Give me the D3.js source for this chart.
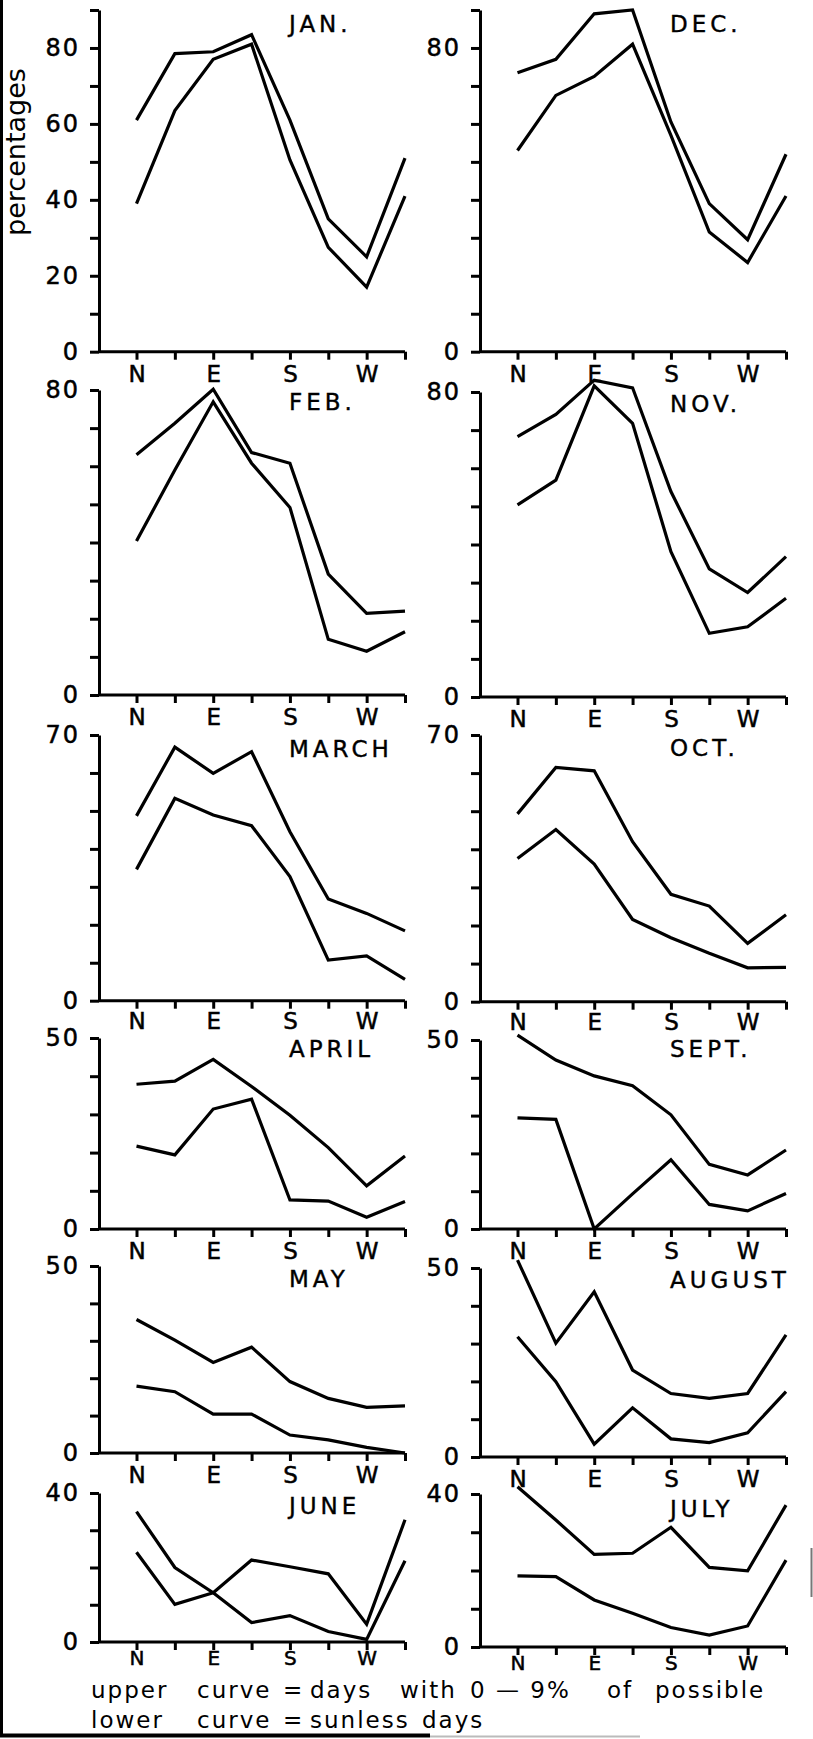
<!DOCTYPE html>
<html>
<head>
<meta charset="utf-8">
<script src="https://cdn.jsdelivr.net/npm/d3@7"></script>
<style>
  body { margin: 0; background: #fff; }
  svg text { font-family: "DejaVu Sans", sans-serif; fill: #000; }
</style>
</head>
<body>
<div id="chart"></div>
<script>
var width = 813, height = 1739;

// compass directions along each x axis
var directions = ["N", "NE", "E", "SE", "S", "SW", "W", "NW"];
var dirLabels = ["N", "", "E", "", "S", "", "W", ""];

// panels, read left column then right column, row by row
var months = ["JAN.", "DEC.", "FEB.", "NOV.", "MARCH", "OCT.", "APRIL", "SEPT.", "MAY", "AUGUST", "JUNE", "JULY"];

// upper curve = days with 0-9% of possible (percentages)
var upper = [
  [61, 78.5, 79, 83.5, 61, 35, 25, 51],
  [73.5, 77, 89, 90, 60.5, 39, 29.5, 52],
  [63, 71.3, 80.2, 63.6, 60.8, 31.7, 21.4, 22],
  [68.3, 74.1, 83.1, 81.1, 53.9, 33.6, 27.4, 36.8],
  [48.7, 66.8, 59.9, 65.6, 44.5, 26.8, 23, 18.4],
  [49.3, 61.5, 60.6, 42, 28.2, 25.1, 15.3, 22.8],
  [37.9, 38.7, 44.4, 37.3, 29.8, 21.3, 11.3, 19.1],
  [51.3, 44.7, 40.5, 37.9, 30.2, 17.1, 14.3, 20.9],
  [35.7, 30.2, 24.2, 28.3, 19.1, 14.6, 12.2, 12.6],
  [52.1, 30.1, 43.7, 23, 16.8, 15.5, 16.8, 32.3],
  [35, 20, 13.2, 22, 20.2, 18.3, 4.8, 32.8],
  [41.9, 33.2, 24.2, 24.5, 31.3, 20.8, 19.9, 37.1]
];

// lower curve = sunless days (percentages)
var lower = [
  [39, 63.5, 77, 81, 50.5, 27.5, 17, 41],
  [53, 67.5, 72.5, 81, 57, 31.5, 23.5, 41],
  [40.4, 59, 76.9, 60.8, 49.2, 14.6, 11.5, 16.6],
  [50.4, 56.9, 81.6, 71.8, 38.1, 16.7, 18.4, 25.9],
  [34.6, 53.3, 48.9, 46.1, 32.7, 10.7, 11.8, 5.6],
  [37.6, 45.2, 36.1, 21.6, 16.8, 12.7, 8.9, 9],
  [21.7, 19.4, 31.4, 34, 7.6, 7.3, 3.1, 7.2],
  [29.4, 29, 0, 9.3, 18.3, 6.5, 4.8, 9.4],
  [17.9, 16.4, 10.4, 10.4, 4.8, 3.5, 1.5, 0],
  [31.8, 19.9, 3.4, 13, 4.8, 3.8, 6.4, 17.3],
  [24.1, 10.1, 13.2, 5.2, 7.1, 2.8, 0.7, 21.8],
  [18.6, 18.4, 12.3, 8.8, 5.1, 3.1, 5.5, 22.7]
];

// top of each y axis and which ticks carry numbers
var yMax = [90, 90, 80, 80, 70, 70, 50, 50, 50, 50, 40, 40];
var yLabelled = [[0, 20, 40, 60, 80], [0, 80], [0, 80], [0, 80], [0, 70], [0, 70],
                 [0, 50], [0, 50], [0, 50], [0, 50], [0, 40], [0, 40]];

var legendLines = [
  ["upper", "curve", "=", "days", "with", "0 \u2014 9%", "of", "possible"],
  ["lower", "curve", "=", "sunless", "days"]
];

// ---- layout (pixels) ----
var colAxisX = [99, 480];
var zeroY = [351.7, 351.7, 695, 697, 1000.7, 1001.7, 1229, 1229, 1453, 1457, 1642, 1647];
var topY  = [10, 10, 390, 392, 735, 735, 1038, 1040, 1266, 1268, 1493, 1494];
var monthY = [32, 32, 410, 412, 757, 756, 1057, 1057, 1287, 1288, 1514, 1517];
var labelPad = [6, 6, 6, 6, 4, 4, 6, 6, 6, 6, 1, 1];
var labelSize = [23, 23, 23, 23, 23, 23, 23, 23, 23, 23, 20, 20];
var legendX = [[91, 197, 283, 310, 400, 470, 607, 655], [91, 197, 283, 310, 422]];
var legendY = [1698, 1728];

var svg = d3.select("#chart")
  .append("svg")
    .attr("width", width)
    .attr("height", height);

svg.append("rect").attr("width", width).attr("height", height).attr("fill", "#fff");

// scan border
svg.append("line").attr("x1", 1.5).attr("x2", 1.5).attr("y1", 0).attr("y2", 1737)
  .attr("stroke", "#000").attr("stroke-width", 3);
svg.append("line").attr("x1", 0).attr("x2", 430).attr("y1", 1735.5).attr("y2", 1735.5)
  .attr("stroke", "#000").attr("stroke-width", 4);
svg.append("line").attr("x1", 430).attr("x2", 640).attr("y1", 1736.5).attr("y2", 1736.5)
  .attr("stroke", "#bbb").attr("stroke-width", 2);
svg.append("line").attr("x1", 811.5).attr("x2", 811.5).attr("y1", 1548).attr("y2", 1597)
  .attr("stroke", "#777").attr("stroke-width", 2);

months.forEach(function(month, i) {
  var ax = colAxisX[i % 2];
  var x = d3.scalePoint().domain(directions).range([ax + 37.5, ax + 306]);
  var y = d3.scaleLinear().domain([0, yMax[i]]).range([zeroY[i], topY[i]]);
  var g = svg.append("g");

  var yAxis = d3.axisLeft(y)
    .tickValues(d3.range(0, yMax[i] + 1, 10))
    .tickSize(9)
    .tickSizeOuter(0)
    .tickPadding(10)
    .tickFormat(function(d) { return yLabelled[i].indexOf(d) >= 0 ? d : ""; });

  var gy = g.append("g")
    .attr("transform", "translate(" + ax + ",0)")
    .call(yAxis);

  var xAxis = d3.axisBottom(x)
    .tickSize(8)
    .tickPadding(labelPad[i])
    .tickFormat(function(d, j) { return dirLabels[j]; });

  var gx = g.append("g")
    .attr("transform", "translate(0," + y(0) + ")")
    .call(xAxis);
  gx.select(".domain").remove();

  // baseline from the y axis to the last tick
  g.append("line")
    .attr("x1", ax).attr("x2", x("NW"))
    .attr("y1", y(0)).attr("y2", y(0))
    .attr("stroke", "#000").attr("stroke-width", 3);

  g.selectAll(".domain, .tick line")
    .attr("stroke", "#000")
    .attr("stroke-width", 3);

  gy.selectAll(".tick text")
    .attr("font-size", 24)
    .attr("letter-spacing", 2)
    .style("font-family", "'DejaVu Sans', sans-serif");
  gx.selectAll(".tick text")
    .attr("font-size", labelSize[i])
    .style("font-family", "'DejaVu Sans', sans-serif");
  g.selectAll(".tick text").attr("stroke", "#000").attr("stroke-width", 0.5);

  var line = d3.line()
    .x(function(d, j) { return x(directions[j]); })
    .y(function(d) { return y(d); });

  [upper[i], lower[i]].forEach(function(series) {
    g.append("path")
      .datum(series)
      .attr("d", line)
      .attr("fill", "none")
      .attr("stroke", "#000")
      .attr("stroke-width", 3.2)
      .attr("stroke-linejoin", "miter");
  });

  g.append("text")
    .attr("x", ax + 190)
    .attr("y", monthY[i])
    .attr("font-size", 23)
    .attr("letter-spacing", 4)
    .attr("stroke", "#000")
    .attr("stroke-width", 0.4)
    .text(month);
});

// y axis title
svg.append("text")
  .attr("transform", "translate(25,152) rotate(-90)")
  .attr("text-anchor", "middle")
  .attr("font-size", 27)
  .text("percentages");

// key under the panels
legendLines.forEach(function(words, k) {
  var t = svg.append("text")
    .attr("y", legendY[k])
    .attr("font-size", 23)
    .attr("letter-spacing", 2);
  t.selectAll("tspan")
    .data(words)
  .enter().append("tspan")
    .attr("x", function(d, j) { return legendX[k][j]; })
    .text(function(d) { return d; });
});
</script>
</body>
</html>
